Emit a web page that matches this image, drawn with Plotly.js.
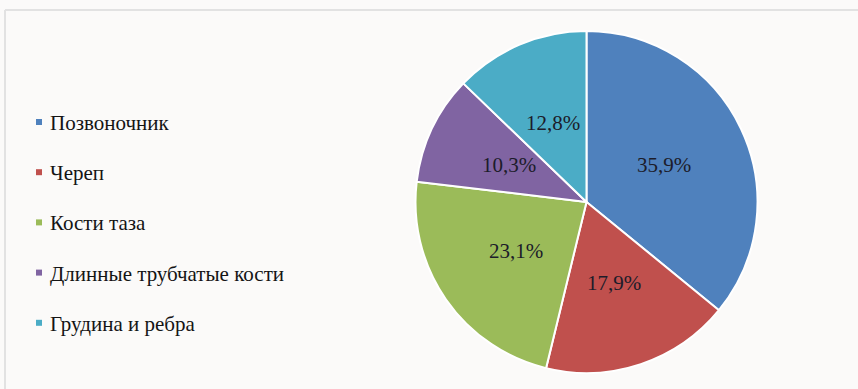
<!DOCTYPE html>
<html>
<head>
<meta charset="utf-8">
<script src="https://cdn.plot.ly/plotly-3.0.1.min.js"></script>
<style>
html,body{margin:0;padding:0;background:#fbfaf9;}
#chart{width:858px;height:389px;}
#fontwarm{position:absolute;left:0;top:0;font-family:"Liberation Serif";font-size:21px;color:#fbfaf9;opacity:0.01;white-space:nowrap;pointer-events:none;}
</style>
</head>
<body>
<div id="fontwarm">Позвоночник Череп Кости таза Длинные трубчатые кости Грудина и ребра 0123456789,%</div>
<div id="chart"></div>
<script>
const categories = ["Позвоночник", "Череп", "Кости таза", "Длинные трубчатые кости", "Грудина и ребра"];
const values = [35.9, 17.9, 23.1, 10.3, 12.8];
const colors = ["#4f81bd", "#c0504d", "#9bbb59", "#8064a2", "#4bacc6"];

const W = 858, H = 389;
const FAM = "Liberation Serif";

// legend (drawn as annotations + shapes, laid out in a loop)
const legX = 39, legY0 = 122, legGap = 50.2, mk = 6;
const annotations = [];
const shapes = [];
categories.forEach((c, i) => {
  const y = legY0 + i * legGap;
  shapes.push({type: "rect", xref: "paper", yref: "paper",
    x0: (legX - mk/2) / W, x1: (legX + mk/2) / W,
    y0: 1 - (y + mk/2) / H, y1: 1 - (y - mk/2) / H,
    fillcolor: colors[i], line: {width: 0}});
  annotations.push({xref: "paper", yref: "paper", x: 48 / W, y: 1 - (y + 1) / H,
    xanchor: "left", yanchor: "middle", showarrow: false, text: c,
    font: {family: FAM, size: 21, color: "#141414"}});
});
// chart frame (top and left edges visible)
shapes.push({type: "line", xref: "paper", yref: "paper", x0: 5/W, x1: 1.02, y0: 1 - 10/H, y1: 1 - 10/H, line: {color: "#e2e2e2", width: 2}});
shapes.push({type: "line", xref: "paper", yref: "paper", x0: 5/W, x1: 5/W, y0: 1 - 10/H, y1: -0.02, line: {color: "#e2e2e2", width: 2}});

const cx = 586.5, cy = 202, r = 171;

// percentage labels at half radius along each slice's mid angle
const total = values.reduce((a, b) => a + b, 0);
let cum = 0;
values.forEach((v, i) => {
  const mid = (cum + v / 2) / total * 2 * Math.PI;
  cum += v;
  const lx = cx + 0.5 * r * Math.sin(mid);
  const ly = cy - 0.5 * r * Math.cos(mid);
  const pct = (v / total * 100).toFixed(1).replace(".", ",") + "%";
  annotations.push({xref: "paper", yref: "paper", x: lx / W, y: 1 - ly / H,
    xanchor: "center", yanchor: "middle", showarrow: false, text: pct,
    font: {family: FAM, size: 21, color: "#1c1c2a"}});
});

const data = [{
  type: "pie",
  labels: categories,
  values: values,
  marker: {colors: colors, line: {color: "#ffffff", width: 2}},
  sort: false,
  direction: "clockwise",
  rotation: 0,
  textinfo: "none",
  hoverinfo: "none",
  showlegend: false,
  domain: {x: [(cx - r) / W, (cx + r) / W], y: [1 - (cy + r) / H, 1 - (cy - r) / H]}
}];

const layout = {
  width: W, height: H,
  margin: {l: 0, r: 0, t: 0, b: 0},
  paper_bgcolor: "#fbfaf9",
  plot_bgcolor: "#fbfaf9",
  showlegend: false,
  annotations: annotations,
  shapes: shapes
};

const cfg = {displayModeBar: false, staticPlot: true};
Plotly.newPlot("chart", data, layout, cfg).then(() => {
  const redo = () => Plotly.react("chart", data, Object.assign({}, layout, {annotations: annotations.map(a => Object.assign({}, a))}), cfg);
  if (document.fonts && document.fonts.load) {
    document.fonts.load('21px "Liberation Serif"', "Позвоночник 35,9%").then(redo, redo);
  }
});
</script>
</body>
</html>
